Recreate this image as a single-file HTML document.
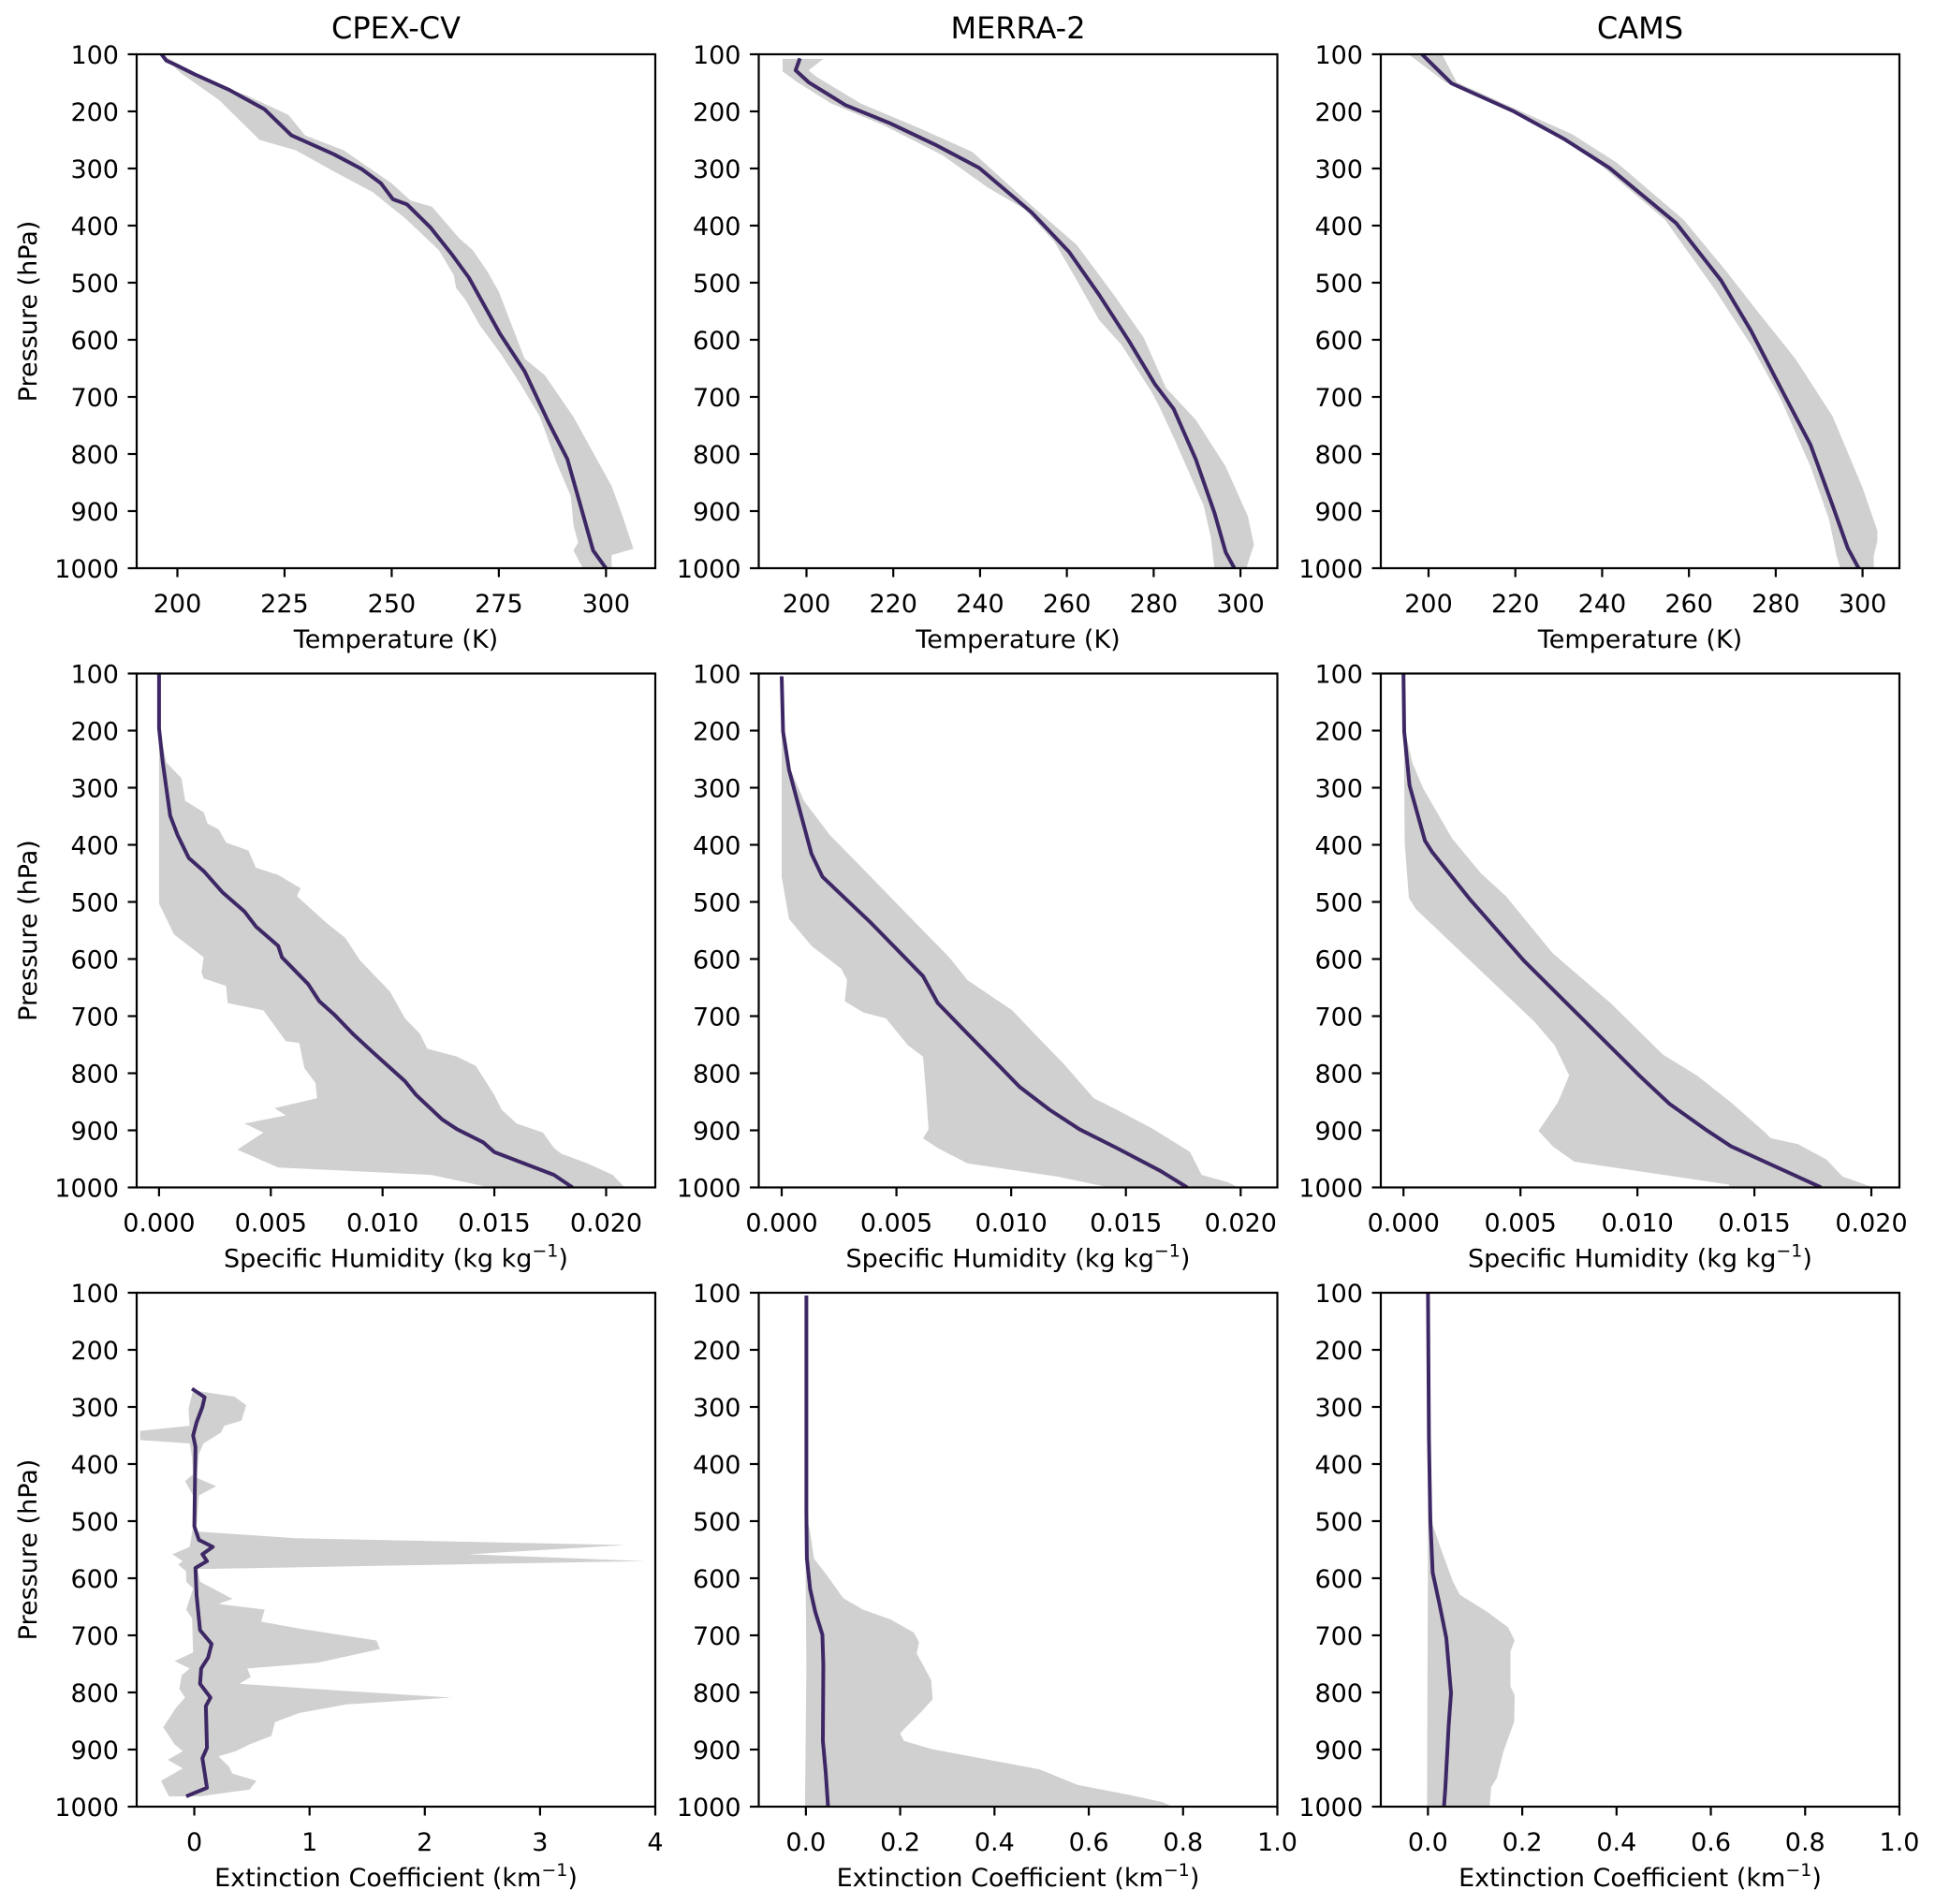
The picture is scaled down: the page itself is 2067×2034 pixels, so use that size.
<!DOCTYPE html>
<html><head><meta charset="utf-8"><style>
html,body{margin:0;padding:0;background:#fff;}
svg{display:block;}
text{font-family:"DejaVu Sans","Liberation Sans",sans-serif;fill:#000;}
</style></head><body>
<svg id="fig" width="2067" height="2034" viewBox="0 0 2067 2034" xmlns="http://www.w3.org/2000/svg"></svg>
<script>
// ---------- Row 1: Temperature (K) ----------
const tCpexMeanP=[100,111,120,135,162,196,242,275,301,326,354,363,403,450,491,590,655,743,809,889,969,1000];
const tCpexMeanV=[196.3,197.4,200,204,212,220.3,226.6,236.5,243,247.5,250.3,253.6,259,264,268,275.3,281,286.5,291,294,297,300];
const tCpexHiP=[100,144,173,206,242,268,326,356,367,421,443,480,516,633,662,735,856,903,966,977,1000];
const tCpexHiV=[196.3,206.4,216.4,225.9,229.8,238.8,250,254.4,259.4,265.6,268.9,272.3,275,281,285.7,292.4,301.3,303.6,306.4,301.3,301.3];
const tCpexLoP=[100,133,180,250,268,305,341,388,443,487,509,531,575,626,677,735,816,874,925,955,969,1000];
const tCpexLoV=[196.3,200.8,209.7,219.2,227.6,236.5,245.5,253.3,261,264.5,265,267.3,270.6,275.6,280,284.6,288.5,291.8,292.4,293.5,292.4,294.6];

const tMerraMeanP=[107,128,149,189,221,258,299,377,446,521,602,678,721,809,903,972,1000];
const tMerraMeanV=[198.5,197.5,200.5,209,219.3,229.6,239.8,251.9,260.5,267.4,274.3,280.3,284.6,289.7,294,296.6,298.6];
const tMerraHiP=[108,128,139,186,230,271,365,434,521,596,684,740,822,909,959,991,1000];
const tMerraHiV=[203.9,200.5,202.2,212.5,226.2,238.2,251.9,262.3,270.8,277.7,282.8,289.7,296.6,301.7,303.1,301.7,301.4];
const tMerraLoP=[108,130,149,186,224,277,333,371,428,496,565,609,690,715,771,859,890,947,1000];
const tMerraLoV=[194.5,194.5,197.9,205.7,217.7,231.4,241.7,250.2,257.1,262.3,267.4,272.6,279.4,281.2,284.6,289.7,291.5,293.2,294];

const tCamsMeanP=[100,151,199,249,299,396,496,584,684,784,890,965,1000];
const tCamsMeanV=[198.5,205.3,219.4,231.4,241.7,257.1,267.4,274.3,281.1,288,293.1,296.6,299.1];
const tCamsHiP=[100,149,196,240,290,390,477,552,634,734,859,934,953,978,1000];
const tCamsHiV=[203.1,206.5,220.2,233.1,243.4,258.8,268.3,276,284.6,293.1,300,303.4,303.4,302.6,302.6];
const tCamsLoP=[100,149,196,243,296,390,509,609,703,822,915,978,1000];
const tCamsLoV=[195.4,203.9,217.7,229.7,240,254.5,265.7,274.3,281.1,288,292.3,294,294.9];

// ---------- Row 2: Specific humidity (units of 1e-3 kg/kg) ----------
const qCpexMeanP=[100,196,256,349,383,423,446,483,517,543,577,597,644,674,697,731,761,814,838,881,898,921,938,978,1000];
const qCpexMeanV=[0,0,0.17,0.5,0.83,1.33,2.0,2.83,3.83,4.33,5.33,5.5,6.67,7.17,7.83,8.67,9.5,11,11.5,12.67,13.33,14.5,15,17.67,18.5];
const qCpexHiP=[100,196,256,283,323,343,363,373,396,410,440,453,476,490,537,563,603,657,704,731,757,771,787,838,864,888,904,931,941,958,978,1000];
const qCpexHiV=[0,0,0.33,1,1.17,2,2.17,2.67,3,4,4.33,5.33,6.33,6.17,7.5,8.33,9,10.33,11,11.67,12,13.33,14.17,15,15.33,16,17.17,17.67,18,19.17,20.3,20.83];
const qCpexLoP=[100,196,503,557,587,597,624,634,647,677,690,744,747,791,817,844,861,874,888,904,934,965,978,1000];
const qCpexLoV=[0,0,0,0.67,1.67,2,1.9,2,3,3.07,4.67,5.67,6.27,6.5,7,7.07,5.17,5.67,3.83,4.67,3.5,5.33,12.17,14.8];

const qMerraMeanP=[105,202,269,343,416,456,537,630,677,731,784,824,864,898,931,971,1000];
const qMerraMeanV=[0,0.06,0.32,0.81,1.3,1.78,3.9,6.16,6.8,8.1,9.4,10.37,11.67,12.97,14.6,16.5,17.67];
const qMerraHiP=[105,202,262,323,383,443,523,597,637,690,731,784,844,864,898,938,978,991,1000];
const qMerraHiV=[0,0,0.32,0.97,2.1,3.57,5.5,7.3,8.1,10.05,11.02,12.3,13.6,14.6,16.2,17.8,18.3,19.45,19.9];
const qMerraLoP=[105,456,530,577,617,637,674,694,704,751,771,838,898,914,931,958,981,1000];
const qMerraLoV=[0,0,0.32,1.3,2.6,2.85,2.75,3.57,4.54,5.5,6.16,6.3,6.4,6.16,6.8,8.1,12,14.26];

const qCamsMeanP=[100,202,296,393,413,496,603,703,804,854,901,928,1000];
const qCamsMeanV=[0,0.03,0.26,0.92,1.23,2.85,5.15,7.6,10.08,11.38,13,14,17.85];
const qCamsHiP=[100,202,256,302,389,450,490,590,677,767,804,851,904,914,924,951,981,1000];
const qCamsHiV=[0,0.08,0.38,0.85,2.08,3.31,4.38,6.38,8.85,11.08,12.54,14,15.46,15.7,16.85,18.08,18.77,20.08];
const qCamsLoP=[100,396,493,513,710,751,804,851,901,928,955,995,1000];
const qCamsLoV=[0,0.05,0.23,0.54,5.6,6.46,7.08,6.6,5.77,6.38,7.3,13.92,13.92];

// ---------- Row 3: Extinction coefficient (km^-1) ----------
const eCpexMeanP=[268,283,300,327,350,370,509,533,545,558,570,582,630,691,715,739,758,785,809,824,897,915,967,982];
const eCpexMeanV=[-0.02,0.09,0.07,0.02,-0.01,0.01,0,0.04,0.16,0.07,0.11,0.01,0.02,0.05,0.15,0.12,0.06,0.05,0.14,0.1,0.11,0.07,0.11,-0.07];
const eCpexHiP=[271,282,297,324,333,345,364,382,424,439,455,509,518,530,542,558,570,584,606,636,645,655,676,688,709,724,748,758,773,785,797,809,821,836,852,876,891,903,912,930,942,955,970,982];
const eCpexHiV=[-0.01,0.35,0.45,0.41,0.26,0.23,0.08,0.04,0.02,0.19,0.04,0.02,0.02,0.88,3.74,2.38,3.91,0.03,0.05,0.33,0.21,0.61,0.58,0.91,1.58,1.61,1.07,0.46,0.49,0.39,1.29,2.23,1.32,0.91,0.7,0.67,0.48,0.36,0.21,0.3,0.33,0.54,0.48,0.05];
const eCpexLoP=[271,303,333,342,358,364,388,418,430,455,509,545,558,570,576,588,606,618,655,670,730,745,758,770,794,809,827,861,891,903,918,933,955,982];
const eCpexLoV=[-0.01,-0.05,-0.04,-0.47,-0.47,-0.04,-0.02,-0.01,-0.08,-0.01,-0.01,-0.04,-0.19,-0.1,-0.14,-0.07,-0.07,-0.01,-0.07,-0.02,-0.01,-0.17,-0.04,-0.11,-0.13,-0.08,-0.16,-0.27,-0.17,-0.1,-0.23,-0.1,-0.29,-0.22];

const eMerraMeanP=[105,485,565,619,659,699,752,885,939,999];
const eMerraMeanV=[0.001,0.001,0.002,0.009,0.02,0.035,0.037,0.036,0.042,0.047];
const eMerraHiP=[485,519,565,592,635,655,672,695,712,732,745,779,812,832,862,872,885,899,919,935,952,962,979,992,1000];
const eMerraHiV=[0,0.009,0.017,0.042,0.079,0.121,0.179,0.229,0.24,0.235,0.244,0.266,0.269,0.247,0.211,0.2,0.208,0.266,0.395,0.496,0.547,0.576,0.684,0.756,0.778];
const eMerraLoP=[485,565,752,1000];
const eMerraLoV=[0,-0.001,0.001,-0.002];

const eCamsMeanP=[100,353,498,590,644,705,801,858,966,1000];
const eCamsMeanV=[0,0.002,0.005,0.01,0.024,0.039,0.049,0.044,0.037,0.034];
const eCamsHiP=[353,506,552,606,629,659,686,709,728,790,805,851,904,950,966,1000];
const eCamsHiV=[0,0.01,0.029,0.053,0.068,0.126,0.17,0.184,0.175,0.175,0.184,0.183,0.16,0.146,0.134,0.131];
const eCamsLoP=[353,506,1000];
const eCamsLoV=[0,0,-0.002];

// ---------- Tick labels ----------
const yTicks=[100,200,300,400,500,600,700,800,900,1000];
const tTicksCpex=[200,225,250,275,300];
const tTicks=[200,220,240,260,280,300];
const qTicks=[0,5,10,15,20];
const qTickLabels=["0.000","0.005","0.010","0.015","0.020"];
const eTicksCpex=[0,1,2,3,4];
const eTicks=[0,0.2,0.4,0.6,0.8,1.0];
const eTickLabels=["0.0","0.2","0.4","0.6","0.8","1.0"];
const colTitles=["CPEX-CV","MERRA-2","CAMS"];

// ---------- Layout ----------
const NS="http://www.w3.org/2000/svg";
const svg=document.getElementById('fig');
const colLeft=[146,810.5,1475], rowTop=[58,719.5,1381], AW=554, AH=549;
const LINE="#3d2765", FILL="#d0d0d0";

function mk(tag,attrs,parent){const e=document.createElementNS(NS,tag);for(const k in attrs)e.setAttribute(k,attrs[k]);(parent||svg).appendChild(e);return e;}

const panels=[
 {r:0,c:0,xlim:[190.5,311.5],xt:tTicksCpex,xl:tTicksCpex.map(String),lab:"temp",s:[tCpexMeanP,tCpexMeanV,tCpexHiP,tCpexHiV,tCpexLoP,tCpexLoV],name:"cpex-temperature"},
 {r:0,c:1,xlim:[189,308.5],xt:tTicks,xl:tTicks.map(String),lab:"temp",s:[tMerraMeanP,tMerraMeanV,tMerraHiP,tMerraHiV,tMerraLoP,tMerraLoV],name:"merra-temperature"},
 {r:0,c:2,xlim:[189,308.5],xt:tTicks,xl:tTicks.map(String),lab:"temp",s:[tCamsMeanP,tCamsMeanV,tCamsHiP,tCamsHiV,tCamsLoP,tCamsLoV],name:"cams-temperature"},
 {r:1,c:0,xlim:[-1.0,22.2],xt:qTicks,xl:qTickLabels,lab:"hum",s:[qCpexMeanP,qCpexMeanV,qCpexHiP,qCpexHiV,qCpexLoP,qCpexLoV],name:"cpex-humidity"},
 {r:1,c:1,xlim:[-1.0,21.6],xt:qTicks,xl:qTickLabels,lab:"hum",s:[qMerraMeanP,qMerraMeanV,qMerraHiP,qMerraHiV,qMerraLoP,qMerraLoV],name:"merra-humidity"},
 {r:1,c:2,xlim:[-0.97,21.2],xt:qTicks,xl:qTickLabels,lab:"hum",s:[qCamsMeanP,qCamsMeanV,qCamsHiP,qCamsHiV,qCamsLoP,qCamsLoV],name:"cams-humidity"},
 {r:2,c:0,xlim:[-0.5,4],xt:eTicksCpex,xl:eTicksCpex.map(String),lab:"ext",s:[eCpexMeanP,eCpexMeanV,eCpexHiP,eCpexHiV,eCpexLoP,eCpexLoV],name:"cpex-extinction"},
 {r:2,c:1,xlim:[-0.1,1.0],xt:eTicks,xl:eTickLabels,lab:"ext",s:[eMerraMeanP,eMerraMeanV,eMerraHiP,eMerraHiV,eMerraLoP,eMerraLoV],name:"merra-extinction"},
 {r:2,c:2,xlim:[-0.1,1.0],xt:eTicks,xl:eTickLabels,lab:"ext",s:[eCamsMeanP,eCamsMeanV,eCamsHiP,eCamsHiV,eCamsLoP,eCamsLoV],name:"cams-extinction"}
];

panels.forEach((pn,i)=>{
  const L=colLeft[pn.c], T=rowTop[pn.r], B=T+AH, R=L+AW;
  const xs=v=>L+(v-pn.xlim[0])/(pn.xlim[1]-pn.xlim[0])*AW;
  const ys=p=>T+(p-100)/900*AH;
  const g=mk('g',{});
  
  
  const cp=mk('clipPath',{id:'clip'+i},g);
  mk('rect',{x:L,y:T,width:AW,height:AH},cp);
  const [mp,mv,hp,hv,lp,lv]=pn.s;
  // spread band
  let pts=[];
  for(let k=0;k<hp.length;k++)pts.push(xs(hv[k]).toFixed(1)+','+ys(hp[k]).toFixed(1));
  for(let k=lp.length-1;k>=0;k--)pts.push(xs(lv[k]).toFixed(1)+','+ys(lp[k]).toFixed(1));
  const band=mk('polygon',{points:pts.join(' '),fill:FILL,stroke:'none','clip-path':'url(#clip'+i+')'},g);
  
  
  // mean line
  let d='';
  for(let k=0;k<mp.length;k++)d+=(k?'L':'M')+xs(mv[k]).toFixed(1)+','+ys(mp[k]).toFixed(1);
  const line=mk('path',{d:d,fill:'none',stroke:LINE,'stroke-width':4,'stroke-linejoin':'round','clip-path':'url(#clip'+i+')'},g);
  
  
  // frame
  const fr=mk('rect',{x:L,y:T,width:AW,height:AH,fill:'none',stroke:'#000','stroke-width':2.2},g);
  
  
  // y ticks
  yTicks.forEach(p=>{
    const y=ys(p);
    mk('line',{x1:L-9.5,x2:L,y1:y,y2:y,stroke:'#000','stroke-width':2.2},g);
    const t=mk('text',{x:L-19,y:y+10,'text-anchor':'end','font-size':27},g);
    t.textContent=String(p);
    
    
  });
  // x ticks
  pn.xt.forEach((v,k)=>{
    const x=xs(v);
    mk('line',{x1:x,x2:x,y1:B,y2:B+9.5,stroke:'#000','stroke-width':2.2},g);
    const t=mk('text',{x:x,y:B+47,'text-anchor':'middle','font-size':27},g);
    t.textContent=pn.xl[k];
    
    
  });
  // x label
  const xl=mk('text',{x:L+AW/2,y:B+85,'text-anchor':'middle','font-size':27},g);
  
  
  if(pn.lab==='temp'){xl.textContent='Temperature (K)';}
  else{
    const base=pn.lab==='hum'?'Specific Humidity (kg kg':'Extinction Coefficient (km';
    const a=mk('tspan',{},xl);a.textContent=base;
    const s=mk('tspan',{dy:-11,'font-size':19},xl);s.textContent='\u22121';
    const c=mk('tspan',{dy:11},xl);c.textContent=')';
  }
  // y label on first column
  if(pn.c===0){
    const cy=T+AH/2;
    const yl=mk('text',{x:39,y:cy,'text-anchor':'middle','font-size':27,transform:'rotate(-90 39 '+cy+')'},g);
    yl.textContent='Pressure (hPa)';
    
    
  }
  // column title on first row
  if(pn.r===0){
    const tt=mk('text',{x:L+AW/2,y:41,'text-anchor':'middle','font-size':32},g);
    tt.textContent=colTitles[pn.c];
    
    
  }
});
</script>
</body></html>
